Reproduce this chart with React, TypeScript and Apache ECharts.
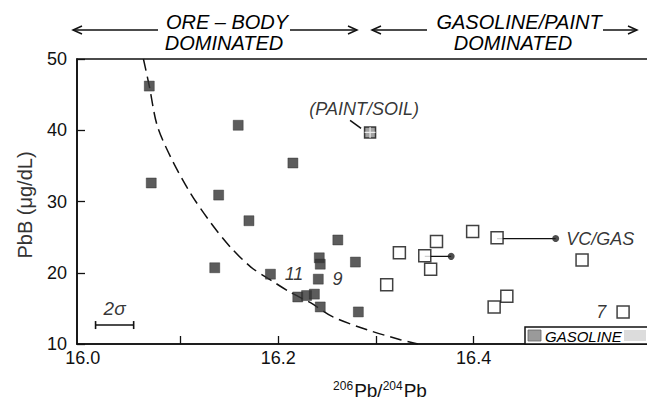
import React, { useEffect, useRef } from "react";
import * as echarts from "echarts";

// ---- axis values ----
const xLabelValues = [16.0, 16.2, 16.4, 16.6];
const xTickValues = [16.1, 16.2, 16.3, 16.4, 16.5];
const yMin = 10;
const yMax = 50;
const yStep = 10;

// ---- ore-body dominated samples (filled squares) ----
const oreX = [16.068, 16.159, 16.215, 16.07, 16.139, 16.17, 16.261, 16.135, 16.192, 16.242, 16.243, 16.241, 16.22, 16.229, 16.237, 16.243, 16.279, 16.282];
const oreY = [46.2, 40.7, 35.4, 32.6, 30.9, 27.3, 24.6, 20.7, 19.8, 22.1, 21.2, 19.1, 16.6, 16.8, 17.0, 15.2, 21.5, 14.5];
const oreLabels = ["", "", "", "", "", "", "", "", "11", "", "", "9", "", "", "", "", "", ""];

// ---- gasoline/paint dominated samples (open squares) ----
const gasX = [16.311, 16.324, 16.35, 16.362, 16.356, 16.399, 16.424, 16.511, 16.434, 16.421, 16.553];
const gasY = [18.3, 22.8, 22.4, 24.4, 20.5, 25.8, 24.9, 21.8, 16.7, 15.2, 14.5];
const gasLabels = ["", "", "", "", "", "", "", "", "", "", "7"];

// ---- VC/GAS reference points (dots), linked to gas samples ----
const vcX = [16.377, 16.484];
const vcY = [22.3, 24.8];
const vcLabels = ["", "VC/GAS"];
const vcLinkFrom = [2, 6];

// ---- paint/soil sample ----
const paintSoilX = [16.294];
const paintSoilY = [39.7];

// ---- dashed boundary curve ----
const boundaryX = [16.062, 16.068, 16.076, 16.09, 16.11, 16.131, 16.151, 16.172, 16.192, 16.213, 16.233, 16.256, 16.291, 16.325, 16.343];
const boundaryY = [50.0, 46.2, 40.7, 36.2, 31.2, 27.0, 23.6, 20.8, 19.0, 17.2, 15.8, 13.8, 12.0, 10.6, 10.0];

// ---- 2 sigma error bar ----
const sigmaX = [16.013, 16.052];
const sigmaY = 12.66;

const FONT = "'Liberation Sans', Arial, Helvetica, sans-serif";
const INK = "#111111";

export default function App() {
  const ref = useRef<HTMLDivElement>(null);

  useEffect(() => {
    document.body.style.margin = "0";
    const chart = echarts.init(ref.current!, null, { renderer: "svg" });

    const italicLabel = (txt: string, position: string, distance: number) =>
      txt
        ? {
            show: true,
            formatter: txt,
            position,
            distance,
            color: "#000",
            fontFamily: FONT,
            fontStyle: "italic",
            fontSize: 18,
          }
        : { show: false };

    const linkSeries = vcLinkFrom.map((gi, k) => ({
      type: "line",
      z: 2,
      symbol: "none",
      silent: true,
      lineStyle: { color: INK, width: 1.3 },
      data: [
        [gasX[gi], vcY[k]],
        [vcX[k], vcY[k]],
      ],
    }));

    const option: any = {
      animation: false,
      backgroundColor: "#ffffff",
      grid: {
        left: 77,
        right: -22,
        top: 59,
        bottom: 56,
        outerBoundsMode: "none",
        containLabel: false,
        show: true,
        borderColor: INK,
        borderWidth: 1.6,
        backgroundColor: "transparent",
      },
      xAxis: {
        type: "value",
        min: 15.994,
        max: 16.6,
        splitLine: { show: false },
        axisLine: { show: true, lineStyle: { color: INK, width: 1.6 } },
        axisTick: {
          show: true,
          inside: true,
          length: 8,
          customValues: xTickValues,
          lineStyle: { color: INK, width: 1.3 },
        },
        axisLabel: {
          customValues: xLabelValues,
          formatter: (v: number) => v.toFixed(1),
          color: INK,
          fontFamily: FONT,
          fontSize: 18,
          margin: 5,
        },
      },
      yAxis: {
        type: "value",
        min: yMin,
        max: yMax,
        interval: yStep,
        splitLine: { show: false },
        axisLine: { show: true, lineStyle: { color: INK, width: 1.6 } },
        axisTick: { show: true, inside: true, length: 8, lineStyle: { color: INK, width: 1.3 } },
        axisLabel: { color: INK, fontFamily: FONT, fontSize: 18, margin: 10 },
      },
      series: [
        {
          type: "line",
          z: 1,
          symbol: "none",
          smooth: 0.3,
          silent: true,
          clip: true,
          lineStyle: { color: INK, width: 1.5, type: [12, 6] },
          data: boundaryX.map((x, i) => [x, boundaryY[i]]),
        },
        {
          type: "line",
          symbol: "rect",
          symbolSize: [1.6, 8],
          silent: true,
          itemStyle: { color: INK },
          lineStyle: { color: INK, width: 1.5 },
          data: sigmaX.map((x) => [x, sigmaY]),
        },
        {
          type: "scatter",
          symbolSize: 0,
          silent: true,
          data: [
            {
              value: [(sigmaX[0] + sigmaX[1]) / 2, sigmaY],
              label: {
                show: true,
                formatter: "2σ",
                position: "top",
                distance: 7,
                color: "#000",
                fontFamily: FONT,
                fontStyle: "italic",
                fontSize: 19,
              },
            },
          ],
        },
        ...linkSeries,
        {
          type: "scatter",
          z: 3,
          symbol: "rect",
          symbolSize: 12,
          itemStyle: { color: "#ffffff", borderColor: INK, borderWidth: 1.5 },
          data: gasX.map((x, i) => ({
            value: [x, gasY[i]],
            label: italicLabel(gasLabels[i], "left", 10),
          })),
        },
        {
          type: "scatter",
          z: 4,
          symbol: "circle",
          symbolSize: 7,
          itemStyle: { color: "#222222" },
          data: vcX.map((x, i) => ({
            value: [x, vcY[i]],
            label: italicLabel(vcLabels[i], "right", 7),
          })),
        },
        {
          type: "scatter",
          z: 5,
          symbol: "rect",
          symbolSize: 10,
          itemStyle: { color: "#333333", borderColor: "#222", borderWidth: 0.5 },
          data: oreX.map((x, i) => ({
            value: [x, oreY[i]],
            label: italicLabel(oreLabels[i], "right", 9),
          })),
        },
        {
          type: "scatter",
          z: 5,
          symbol: "rect",
          symbolSize: 11,
          itemStyle: { color: "#8a8a8a", borderColor: INK, borderWidth: 1.5 },
          data: paintSoilX.map((x, i) => ({
            value: [x, paintSoilY[i]],
            label: {
              show: true,
              formatter: "(PAINT/SOIL)",
              position: "top",
              distance: 8,
              offset: [-6, 0],
              color: "#000",
              fontFamily: FONT,
              fontStyle: "italic",
              fontSize: 18,
            },
          })),
        },
        {
          type: "scatter",
          z: 6,
          symbol: "path://M5,0V10M0,5H10",
          symbolSize: 11,
          silent: true,
          itemStyle: { color: "none", borderColor: "#ffffff", borderWidth: 1.2 },
          data: paintSoilX.map((x, i) => [x, paintSoilY[i]]),
        },
      ],
    };

    chart.setOption(option);

    const ps = chart.convertToPixel({ gridIndex: 0 }, [paintSoilX[0], paintSoilY[0]]) as number[];

    const arrowLine = (x1: number, x2: number, y: number, head: "left" | "right") => {
      const hx = head === "left" ? x1 : x2;
      const d = head === "left" ? 9 : -9;
      return [
        { type: "line", shape: { x1, y1: y, x2, y2: y }, style: { stroke: INK, lineWidth: 1.5 } },
        {
          type: "polyline",
          shape: { points: [[hx + d, y - 4], [hx, y], [hx + d, y + 4]] },
          style: { stroke: INK, lineWidth: 1.5, fill: null },
        },
      ];
    };

    const topText = (text: string, x: number, y: number) => ({
      type: "text",
      x,
      y,
      style: {
        text,
        fill: "#000",
        font: `italic 20px ${FONT}`,
        align: "center",
        verticalAlign: "middle",
      },
    });

    const graphic: any[] = [
      ...arrowLine(73, 158, 30, "left"),
      ...arrowLine(290, 357, 30, "right"),
      ...arrowLine(372, 427, 30, "left"),
      ...arrowLine(603, 637, 30, "right"),
      topText("ORE – BODY", 227, 22),
      topText("DOMINATED", 224, 43),
      topText("GASOLINE/PAINT", 519, 22),
      topText("DOMINATED", 513, 43),
      // leader line for paint/soil
      {
        type: "line",
        shape: { x1: ps[0] - 20, y1: ps[1] - 12, x2: ps[0] - 9, y2: ps[1] - 4 },
        style: { stroke: INK, lineWidth: 1.5 },
      },
      // GASOLINE box
      {
        type: "rect",
        z: 50,
        shape: { x: 525, y: 327, width: 140, height: 17 },
        style: { fill: "#ffffff", stroke: INK, lineWidth: 1.5 },
      },
      {
        type: "rect",
        z: 51,
        shape: { x: 528, y: 330, width: 13, height: 11 },
        style: { fill: "#9a9a9a", stroke: "#666", lineWidth: 0.8 },
      },
      {
        type: "text",
        z: 51,
        x: 545,
        y: 336,
        style: {
          text: "GASOLINE",
          fill: "#000",
          font: `italic 15px ${FONT}`,
          align: "left",
          verticalAlign: "middle",
        },
      },
      {
        type: "rect",
        z: 51,
        shape: { x: 624, y: 330, width: 22, height: 11 },
        style: { fill: "#dcdcdc", stroke: null },
      },
      // y-axis name
      {
        type: "text",
        x: 25,
        y: 205,
        rotation: Math.PI / 2,
        style: {
          text: "PbB (μg/dL)",
          fill: "#333",
          font: `20px ${FONT}`,
          align: "center",
          verticalAlign: "middle",
        },
      },
      // x-axis name
      {
        type: "text",
        x: 380,
        y: 390,
        style: {
          text: "{s|206}Pb/{s|204}Pb",
          fill: INK,
          font: `19px ${FONT}`,
          align: "center",
          verticalAlign: "middle",
          rich: {
            s: { fontSize: 12, fontFamily: FONT, fill: INK, padding: [0, 1, 9, 0] },
          },
        },
      },
    ];

    chart.setOption({ graphic });

    return () => chart.dispose();
  }, []);

  return <div ref={ref} style={{ width: 647, height: 400 }} />;
}
